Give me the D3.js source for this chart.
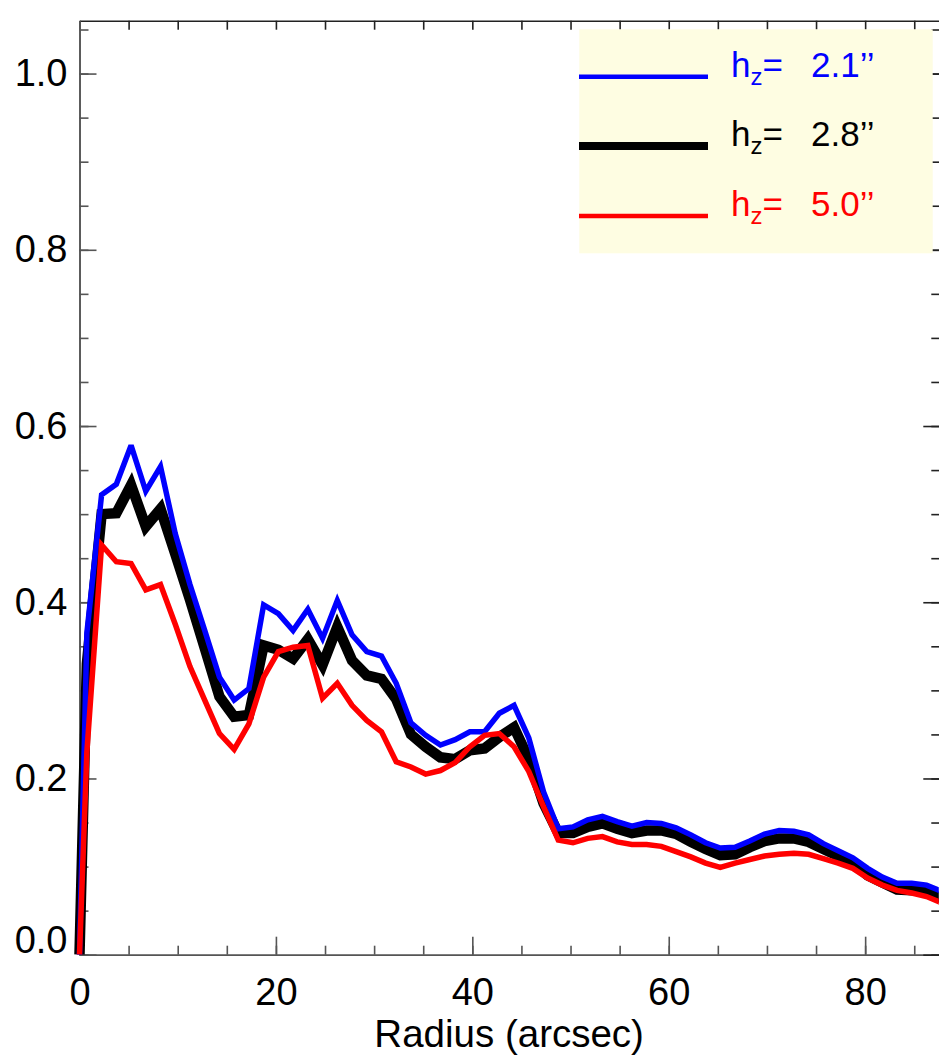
<!DOCTYPE html>
<html>
<head>
<meta charset="utf-8">
<script src="https://cdn.jsdelivr.net/npm/d3@7"></script>
<style>
  body { margin: 0; background: #fff; }
  svg { display: block; font-family: "Liberation Sans", Arial, sans-serif; }
</style>
</head>
<body>
<svg width="939" height="1058"></svg>
<script>
// radius samples (arcsec)
const radius = [0, 0.75, 2.25, 3.75, 5.25, 6.75, 8.25, 9.75, 11.25, 12.75, 14.25, 15.75, 17.25, 18.75,
  20.25, 21.75, 23.25, 24.75, 26.25, 27.75, 29.25, 30.75, 32.25, 33.75, 35.25, 36.75, 38.25, 39.75,
  41.25, 42.75, 44.25, 45.75, 47.25, 48.75, 50.25, 51.75, 53.25, 54.75, 56.25, 57.75, 59.25, 60.75,
  62.25, 63.75, 65.25, 66.75, 68.25, 69.75, 71.25, 72.75, 74.25, 75.75, 77.25, 78.75, 80.25, 81.75,
  83.25, 84.75, 86.25, 87.75];

const hz21 = [0, 0.365, 0.522, 0.534, 0.578, 0.526, 0.554, 0.478, 0.420, 0.368, 0.315, 0.289, 0.302, 0.397,
  0.387, 0.368, 0.392, 0.359, 0.402, 0.363, 0.344, 0.339, 0.308, 0.263, 0.249, 0.238, 0.244, 0.253,
  0.253, 0.274, 0.283, 0.246, 0.185, 0.143, 0.145, 0.153, 0.157, 0.151, 0.146, 0.150, 0.149, 0.144,
  0.136, 0.127, 0.121, 0.122, 0.129, 0.137, 0.141, 0.140, 0.136, 0.126, 0.118, 0.110, 0.098, 0.088,
  0.081, 0.081, 0.079, 0.072];

const hz28 = [0, 0.33, 0.500, 0.501, 0.533, 0.486, 0.506, 0.455, 0.403, 0.348, 0.293, 0.270, 0.272, 0.351,
  0.346, 0.336, 0.358, 0.329, 0.372, 0.334, 0.317, 0.313, 0.290, 0.250, 0.236, 0.224, 0.222, 0.232,
  0.234, 0.247, 0.258, 0.222, 0.172, 0.138, 0.138, 0.145, 0.149, 0.143, 0.138, 0.141, 0.141, 0.137,
  0.128, 0.120, 0.113, 0.114, 0.122, 0.129, 0.132, 0.132, 0.128, 0.120, 0.112, 0.105, 0.090, 0.082,
  0.074, 0.073, 0.071, 0.064];

const hz50 = [0, 0.23, 0.465, 0.446, 0.444, 0.414, 0.420, 0.375, 0.327, 0.289, 0.251, 0.233, 0.262, 0.315,
  0.344, 0.349, 0.351, 0.291, 0.308, 0.283, 0.266, 0.253, 0.219, 0.213, 0.205, 0.209, 0.218, 0.236,
  0.249, 0.251, 0.236, 0.208, 0.168, 0.130, 0.127, 0.132, 0.134, 0.128, 0.125, 0.125, 0.123, 0.117,
  0.111, 0.104, 0.099, 0.104, 0.108, 0.112, 0.114, 0.115, 0.114, 0.109, 0.104, 0.098, 0.087, 0.079,
  0.073, 0.070, 0.066, 0.059];

const seriesLabels = ["2.1\u2019\u2019", "2.8\u2019\u2019", "5.0\u2019\u2019"];
const xMajor = [0, 20, 40, 60, 80];
const xMinor = d3.range(0, 88, 5);
const yMajor = [0, 0.2, 0.4, 0.6, 0.8, 1.0];
const yMinor = d3.range(0, 1.06, 0.05);

const svg = d3.select("svg");
const plotL = 79.5, plotR = 938.8, plotT = 20.7, plotB = 954.7;

const x = d3.scaleLinear().domain([0, 87.5]).range([plotL, plotR]);
const y = d3.scaleLinear().domain([0, 1.06]).range([plotB, plotT]);

svg.append("defs").append("clipPath").attr("id", "plotclip")
  .append("rect").attr("x", 60).attr("y", plotT).attr("width", plotR - 60).attr("height", plotB - plotT);

const axisColor = "#555";
function styleAxis(g, color) {
  g.select(".domain").attr("stroke", color).attr("stroke-width", 1.6);
  g.selectAll(".tick line").attr("stroke", color).attr("stroke-width", 1.6);
  g.selectAll(".tick text").attr("fill", "#000").style("font-size", "38px");
}

// bottom axis
svg.append("g").attr("transform", `translate(0,${plotB})`)
  .call(d3.axisBottom(x).tickValues(xMinor).tickSize(-9).tickSizeOuter(0).tickFormat(""))
  .call(g => styleAxis(g, axisColor));
svg.append("g").attr("transform", `translate(0,${plotB})`)
  .call(d3.axisBottom(x).tickValues(xMajor).tickSize(-18).tickSizeOuter(0).tickPadding(23).tickFormat(d3.format("d")))
  .call(g => styleAxis(g, axisColor));

// top axis
svg.append("g").attr("transform", `translate(0,${plotT})`)
  .call(d3.axisTop(x).tickValues(xMinor).tickSize(-9).tickSizeOuter(0).tickFormat(""))
  .call(g => styleAxis(g, "#222"));

// left axis
svg.append("g").attr("transform", `translate(${plotL},0)`)
  .call(d3.axisLeft(y).tickValues(yMinor).tickSize(-9).tickSizeOuter(0).tickFormat(""))
  .call(g => styleAxis(g, axisColor));
svg.append("g").attr("transform", `translate(${plotL},0)`)
  .call(d3.axisLeft(y).tickValues(yMajor).tickSize(-17).tickSizeOuter(0).tickPadding(12).tickFormat(d3.format(".1f")))
  .call(g => styleAxis(g, axisColor))
  .call(g => g.selectAll(".tick text").filter(d => d === 0).attr("dy", "-0.05em"));

// right axis
svg.append("g").attr("transform", `translate(${plotR + 1.5},0)`)
  .call(d3.axisRight(y).tickValues(yMinor).tickSize(-9).tickSizeOuter(0).tickFormat(""))
  .call(g => styleAxis(g, "#222"));
svg.append("g").attr("transform", `translate(${plotR + 1.5},0)`)
  .call(d3.axisRight(y).tickValues(yMajor).tickSize(-17).tickSizeOuter(0).tickFormat(""))
  .call(g => styleAxis(g, "#222"));

// x title
svg.append("text").attr("x", (plotL + plotR) / 2).attr("y", 1046.5)
  .attr("text-anchor", "middle").style("font-size", "38.5px").text("Radius (arcsec)");

// legend box
svg.append("rect").attr("x", 579.3).attr("y", 29.3).attr("width", 353.4).attr("height", 224)
  .attr("fill", "#fefde2");

// curves
const series = [
  { values: hz28, color: "#000", width: 10.5, label: seriesLabels[1], legY: 146, legW: 8 },
  { values: hz21, color: "#0000ff", width: 5.5, label: seriesLabels[0], legY: 76.7, legW: 4.5 },
  { values: hz50, color: "#ff0000", width: 5.5, label: seriesLabels[2], legY: 216, legW: 4.5 }
];

const line = d3.line().x((d, i) => x(radius[i])).y(d => y(d));

const plot = svg.append("g").attr("clip-path", "url(#plotclip)");
series.forEach(s => {
  plot.append("path").attr("d", line(s.values))
    .attr("fill", "none").attr("stroke", s.color).attr("stroke-width", s.width)
    .attr("stroke-linejoin", "miter").attr("stroke-miterlimit", 3);
});

// legend entries
series.forEach(s => {
  const g = svg.append("g");
  g.append("line").attr("x1", 579).attr("x2", 708).attr("y1", s.legY).attr("y2", s.legY)
    .attr("stroke", s.color).attr("stroke-width", s.legW);
  const t = g.append("text").attr("x", 731).attr("y", s.legY).attr("fill", s.color).style("font-size", "35px");
  t.append("tspan").text("h");
  t.append("tspan").attr("dy", 8).style("font-size", "24px").text("z");
  t.append("tspan").attr("dy", -8).text("=");
  g.append("text").attr("x", 811).attr("y", s.legY).attr("fill", s.color).style("font-size", "35px").text(s.label);
});
</script>
</body>
</html>
